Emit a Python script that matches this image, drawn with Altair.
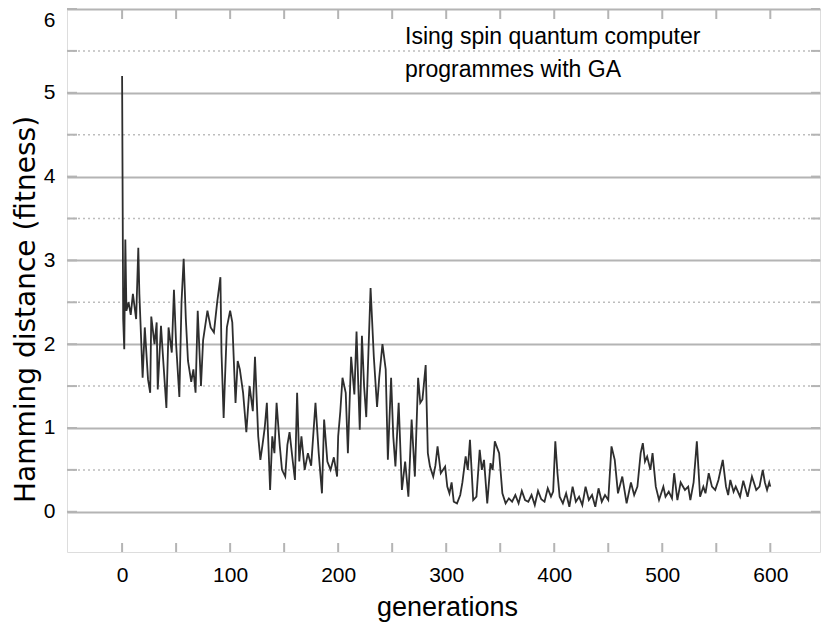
import altair as alt
import pandas as pd

# generations and Hamming distance (fitness)
generations = [0, 1, 2, 3, 4, 6, 8, 10, 13, 15, 16, 19, 21, 24, 26, 27, 30, 32, 33, 36,
               38, 41, 43, 46, 48, 50, 53, 55, 57, 59, 61, 64, 66, 68, 70, 73, 75, 79, 82, 85,
               88, 91, 92, 94, 95, 97, 100, 102, 105, 107, 109, 112, 115, 118, 121, 123, 126, 128, 130, 132,
               134, 137, 139, 141, 143, 146, 148, 151, 153, 155, 158, 160, 162, 164, 166, 169, 172, 175, 179, 182,
               185, 187, 190, 193, 196, 199, 200, 202, 204, 207, 209, 212, 215, 217, 220, 222, 224, 226, 228, 230,
               233, 236, 238, 241, 244, 246, 249, 251, 253, 256, 259, 262, 265, 268, 271, 274, 276, 278, 281, 283,
               285, 288, 290, 292, 295, 299, 301, 303, 305, 307, 310, 313, 315, 318, 320, 322, 325, 328, 331, 333,
               335, 338, 341, 343, 345, 349, 352, 355, 358, 361, 364, 367, 370, 373, 376, 379, 382, 385, 388, 391,
               394, 397, 399, 401, 403, 405, 408, 411, 414, 417, 420, 423, 426, 429, 432, 435, 438, 441, 444, 447,
               450, 453, 456, 459, 463, 467, 471, 474, 477, 480, 482, 484, 486, 489, 491, 494, 497, 501, 503, 506,
               509, 511, 514, 517, 521, 524, 526, 529, 532, 535, 538, 540, 543, 546, 549, 552, 556, 559, 561, 563,
               566, 568, 572, 575, 579, 581, 583, 587, 590, 593, 595, 597, 599, 600]
fitness = [5.2, 2.3, 1.94, 3.25, 2.4, 2.5, 2.35, 2.6, 2.3, 3.15, 2.6, 1.6, 2.2, 1.58, 1.42, 2.33, 2.0, 2.26, 1.46, 2.22,
           1.82, 1.24, 2.2, 1.9, 2.65, 2.0, 1.37, 2.5, 3.02, 2.3, 1.8, 1.55, 1.7, 1.42, 2.4, 1.5, 2.05, 2.4, 2.2, 2.14,
           2.5, 2.8, 1.9, 1.12, 1.5, 2.2, 2.4, 2.26, 1.3, 1.8, 1.7, 1.42, 0.95, 1.5, 1.2, 1.85, 0.9, 0.62, 0.8, 1.0,
           1.3, 0.26, 0.9, 0.7, 1.3, 0.78, 0.5, 0.42, 0.8, 0.95, 0.6, 0.38, 1.42, 0.6, 0.9, 0.5, 0.7, 0.55, 1.3, 0.7,
           0.22, 1.1, 0.6, 0.5, 0.65, 0.42, 0.9, 1.2, 1.6, 1.42, 0.7, 1.85, 1.4, 2.15, 0.98, 2.1, 1.5, 1.13, 1.9, 2.67,
           1.85, 1.25, 1.6, 2.0, 1.7, 0.62, 1.6, 0.9, 0.54, 1.3, 0.26, 0.6, 0.18, 1.1, 0.42, 1.6, 1.3, 1.34, 1.75, 0.7,
           0.54, 0.42, 0.55, 0.78, 0.46, 0.54, 0.3, 0.22, 0.35, 0.12, 0.1, 0.2, 0.35, 0.66, 0.5, 0.86, 0.14, 0.18, 0.74, 0.5,
           0.62, 0.1, 0.58, 0.5, 0.84, 0.7, 0.22, 0.1, 0.16, 0.12, 0.2, 0.1, 0.25, 0.14, 0.12, 0.2, 0.08, 0.25, 0.15, 0.12,
           0.28, 0.18, 0.24, 0.84, 0.46, 0.18, 0.1, 0.22, 0.06, 0.3, 0.12, 0.18, 0.08, 0.3, 0.14, 0.2, 0.06, 0.28, 0.12, 0.2,
           0.14, 0.78, 0.62, 0.22, 0.42, 0.1, 0.35, 0.2, 0.3, 0.7, 0.82, 0.6, 0.66, 0.5, 0.7, 0.3, 0.14, 0.3, 0.18, 0.24,
           0.16, 0.46, 0.14, 0.35, 0.26, 0.3, 0.14, 0.35, 0.84, 0.18, 0.3, 0.22, 0.46, 0.3, 0.26, 0.38, 0.62, 0.3, 0.2, 0.38,
           0.24, 0.3, 0.18, 0.37, 0.18, 0.3, 0.42, 0.26, 0.3, 0.5, 0.35, 0.26, 0.35, 0.3]

x_ticks = [0, 100, 200, 300, 400, 500, 600]
x_minor_ticks = [0, 50, 100, 150, 200, 250, 300, 350, 400, 450, 500, 550, 600]
y_ticks = [0, 1, 2, 3, 4, 5, 6]
y_half = [0.5, 1.5, 2.5, 3.5, 4.5, 5.5]
y_all = [0, 0.5, 1, 1.5, 2, 2.5, 3, 3.5, 4, 4.5, 5, 5.5, 6]
annotation = ["Ising spin quantum computer", "programmes with GA"]

W, H = 753, 543
FONT = "Liberation Sans"
GRID = "#b4b4b4"

df = pd.DataFrame({"gen": generations, "fit": fitness})
xs = alt.Scale(domain=[-51, 646], nice=False, zero=False)
ys = alt.Scale(domain=[-0.48, 6.0], nice=False, zero=False)

x_axis = alt.Axis(values=x_ticks, ticks=False, domain=False, grid=False,
                  labelFontSize=21, labelFont=FONT, labelColor="#000", labelPadding=12,
                  title="generations", titleFontSize=27, titleFont=FONT, titleFontWeight="normal",
                  titleColor="#000", titleX=380, titleY=63, titleBaseline="alphabetic", titleAlign="center")
y_axis = alt.Axis(values=y_ticks, ticks=False, domain=False, grid=True, gridColor=GRID, gridWidth=2,
                  labelFontSize=21, labelFont=FONT, labelColor="#000", labelPadding=12,
                  labelFlush=True, labelFlushOffset=0,
                  title="Hamming distance (fitness)", titleFontSize=28, titleFont="DejaVu Sans",
                  titleFontWeight="normal", titleColor="#000", titleAngle=-90,
                  titleX=-33, titleY=300, titleBaseline="alphabetic", titleAlign="center")

half = alt.Chart(pd.DataFrame({"v": y_half})).mark_rule(
    color="#bdbdbd", strokeWidth=1.5, strokeDash=[2, 3]
).encode(y=alt.Y("v:Q", scale=ys, axis=y_axis))

line = alt.Chart(df).mark_line(color="#2e2e2e", strokeWidth=1.8).encode(
    x=alt.X("gen:Q", scale=xs, axis=x_axis),
    y=alt.Y("fit:Q", scale=ys, axis=y_axis),
)

tdf = pd.DataFrame({"t": x_minor_ticks})
bottom_ticks = alt.Chart(tdf).mark_rule(color=GRID, strokeWidth=2).encode(
    x=alt.X("t:Q", scale=xs, axis=x_axis), y=alt.value(H), y2=alt.value(H - 9))
top_ticks = alt.Chart(tdf).mark_rule(color=GRID, strokeWidth=2).encode(
    x=alt.X("t:Q", scale=xs, axis=x_axis), y=alt.value(0), y2=alt.value(10))

ydf = pd.DataFrame({"v": y_all})
right_ticks = alt.Chart(ydf).mark_rule(color=GRID, strokeWidth=2).encode(
    y=alt.Y("v:Q", scale=ys, axis=y_axis), x=alt.value(W), x2=alt.value(W - 9))
left_ticks = alt.Chart(ydf).mark_rule(color=GRID, strokeWidth=2).encode(
    y=alt.Y("v:Q", scale=ys, axis=y_axis), x=alt.value(0), x2=alt.value(10))

note = alt.Chart(pd.DataFrame({"t": [annotation]})).mark_text(
    align="left", baseline="alphabetic", fontSize=23, font=FONT, color="#000", lineHeight=33
).encode(x=alt.value(338), y=alt.value(35), text="t")

chart = alt.layer(half, left_ticks, right_ticks, bottom_ticks, top_ticks, line, note).properties(
    width=W, height=H,
    padding={"left": 59, "top": 1, "right": 2, "bottom": 71},
    autosize=alt.AutoSizeParams(type="none"),
).configure_view(stroke=GRID, strokeWidth=2).configure(background="white")

chart.save("out.html", embed_options={"renderer": "svg", "actions": False})
